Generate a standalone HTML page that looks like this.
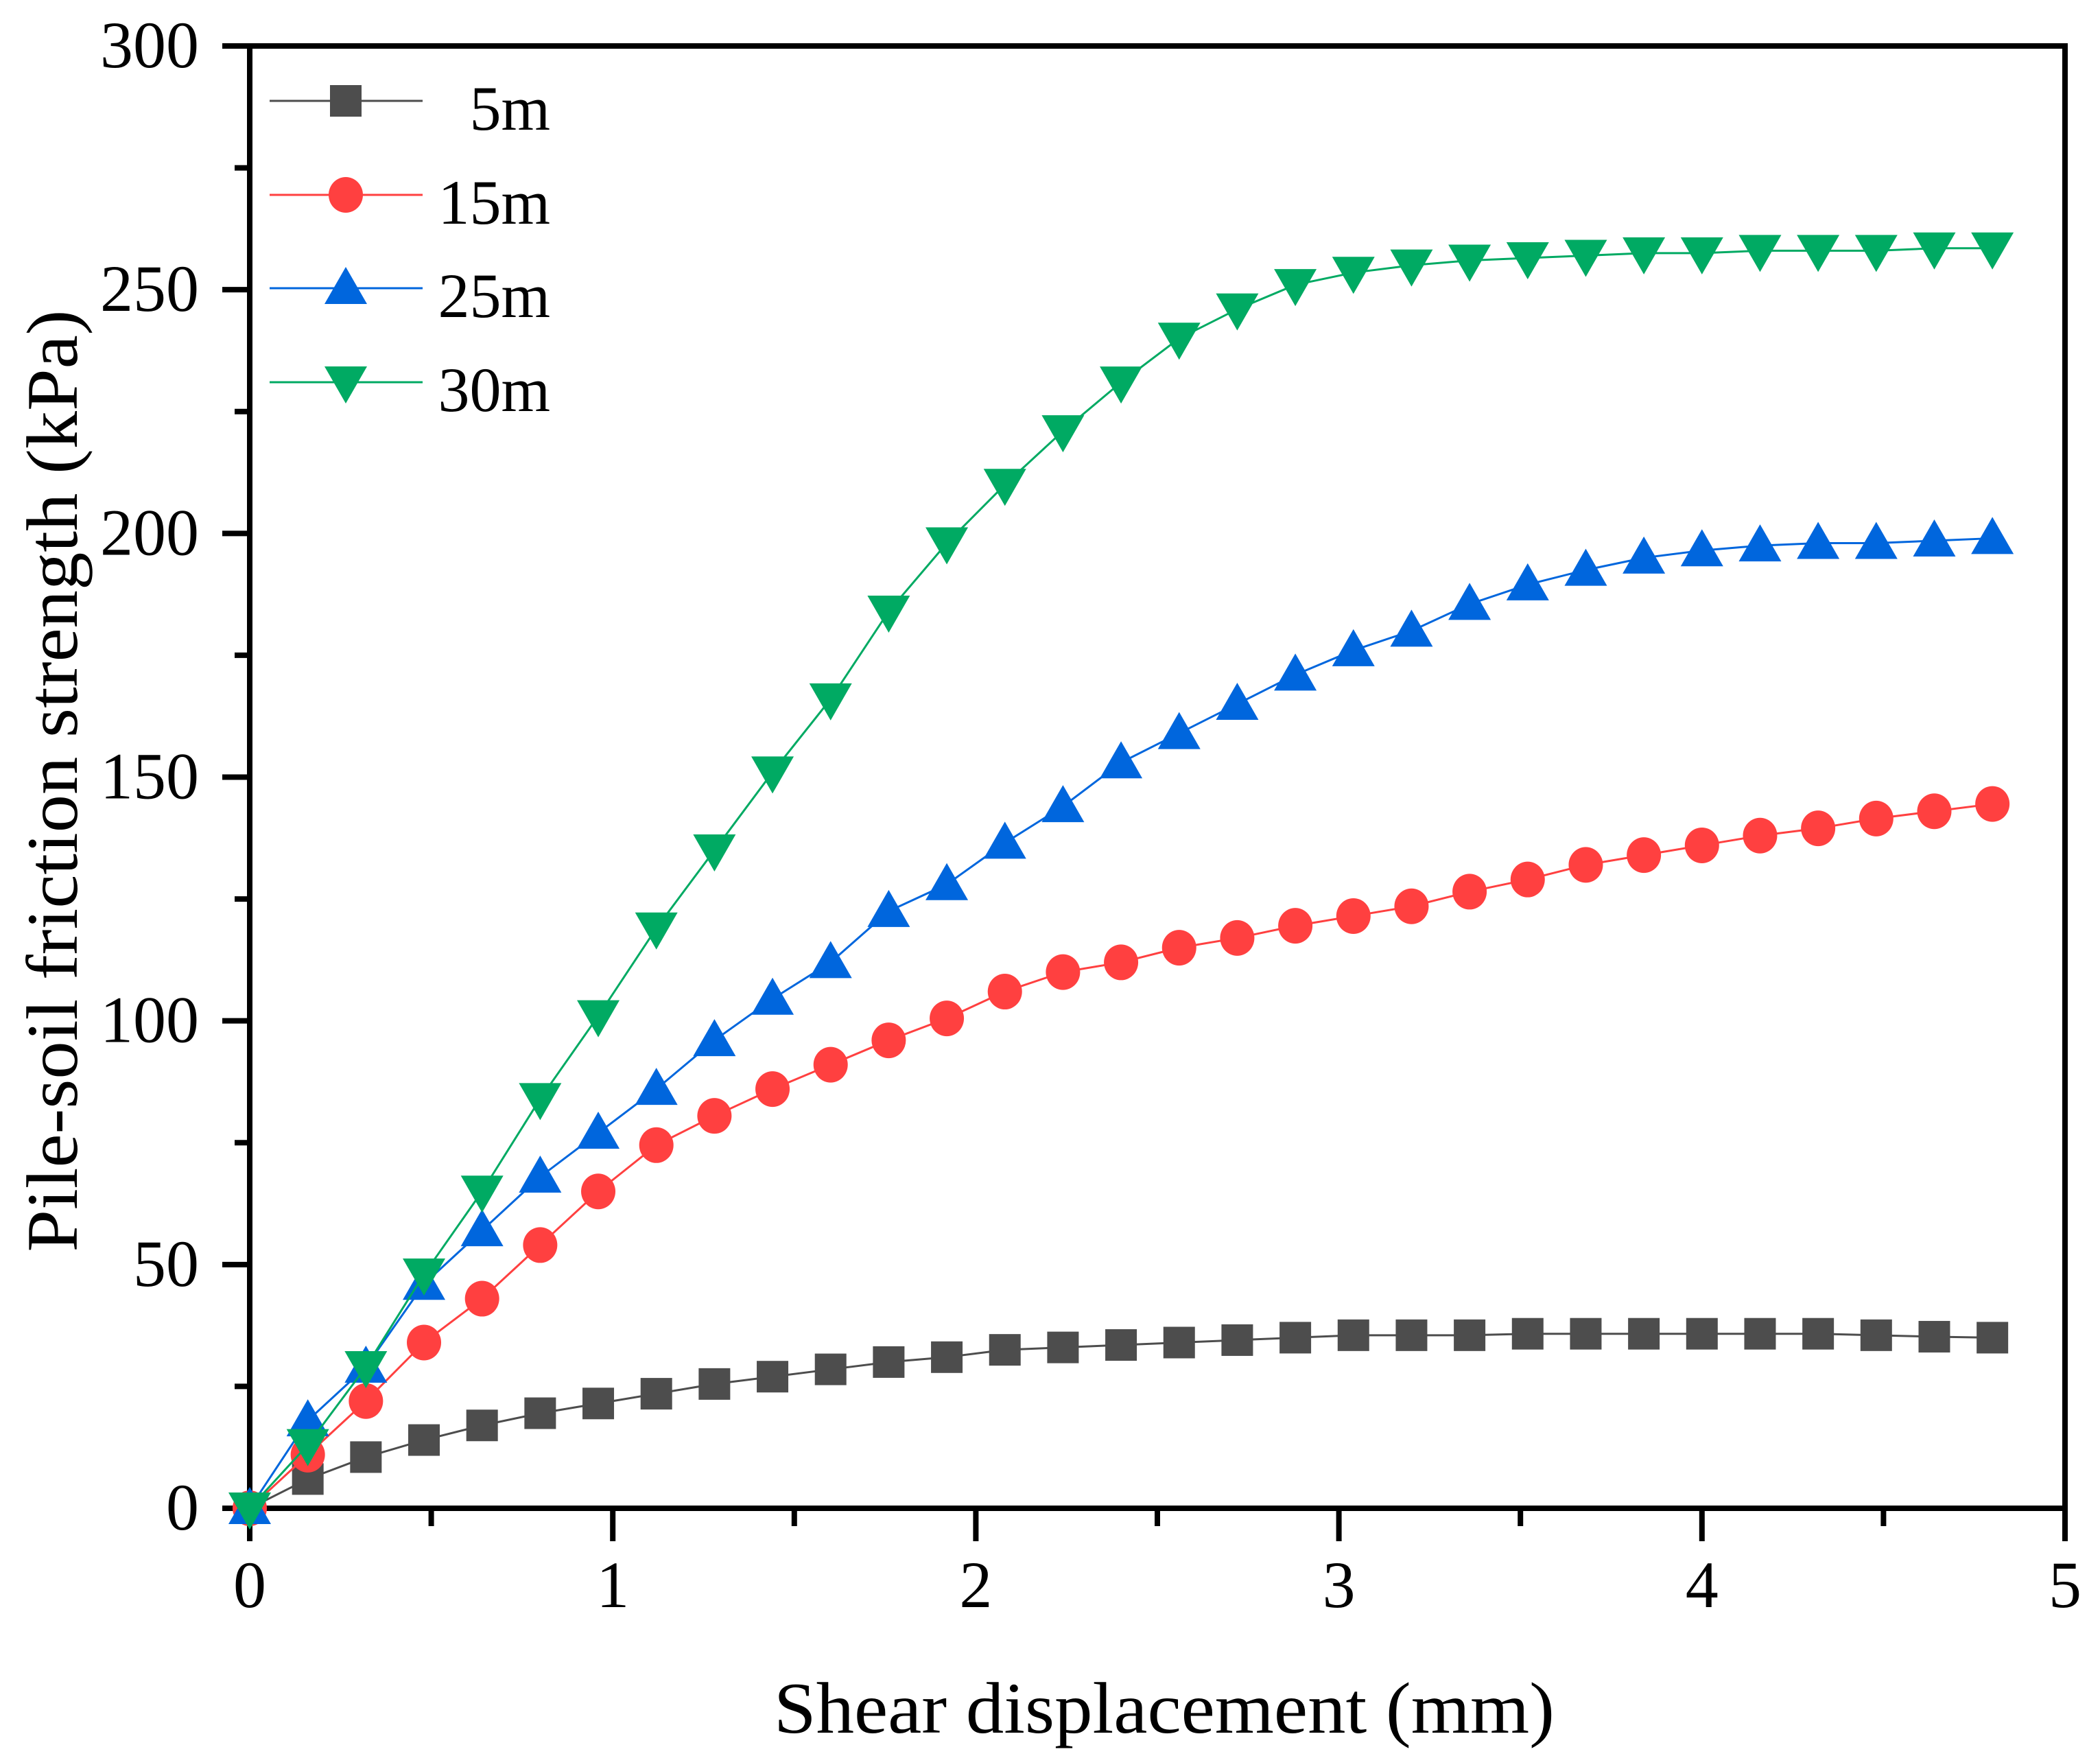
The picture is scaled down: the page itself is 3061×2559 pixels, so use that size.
<!DOCTYPE html>
<html><head><meta charset="utf-8"><style>html,body{margin:0;padding:0;background:#fff}svg{display:block}</style></head>
<body>
<svg id="chart" width="3061" height="2559" viewBox="0 0 3061 2559" xmlns="http://www.w3.org/2000/svg" font-family="'Liberation Serif', serif">
<g id="axes"></g>
<g id="series"></g>
<g id="legend"></g>
<text x="1697" y="2525" font-size="106" text-anchor="middle" textLength="1138" lengthAdjust="spacingAndGlyphs">Shear displacement (mm)</text>
<text transform="translate(112,1138) rotate(-90)" x="0" y="0" font-size="106" text-anchor="middle" textLength="1373" lengthAdjust="spacingAndGlyphs">Pile-soil friction strength (kPa)</text>
</svg>
<script>
const xStep = 0.16;
const s5m = [0,6,10.5,14,17,19.5,21.5,23.5,25.5,27,28.5,30,31,32.5,33,33.5,34,34.5,35,35.5,35.5,35.5,35.8,35.8,35.8,35.8,35.8,35.8,35.5,35.2,35];
const s15m = [0,11,22,34,43,54,65,74.5,80.5,86,91,96,100.5,106,110,112,115,117,119.5,121.5,123.5,126.5,129,132,134,136,138,139.5,141.5,143,144.5];
const s25m = [0,18,29,46,57,68,77,86,96,104.5,112,122.5,128,136.5,144,153,159,165,171,176,180,185.5,189.5,192.5,195,196.5,197.5,198,198,198.5,199];
const s30m = [0,13,29,48,65,84,101,119,135,151,166,184,198,210,221,231,240,246,251,253.5,255,256,256.5,257,257.5,257.5,258,258,258,258.5,258.5];
const xTicks = [0,1,2,3,4,5];
const yTicks = [0,50,100,150,200,250,300];
const legendLabels = ['5m','15m','25m','30m'];

const NS='http://www.w3.org/2000/svg';
const X0=364,X1=3010,Y0=2198,Y1=67;
const sx=v=>X0+(v/5)*(X1-X0);
const sy=v=>Y0-(v/300)*(Y0-Y1);
function mk(tag,attrs,parent){const e=document.createElementNS(NS,tag);for(const k in attrs)e.setAttribute(k,attrs[k]);parent.appendChild(e);return e;}
const axes=document.getElementById('axes');
let f=mk('rect',{x:X0,y:Y1,width:X1-X0,height:Y0-Y1,fill:'none',stroke:'#000','stroke-width':8},axes);


for(let v=0;v<=5.001;v+=0.5){const major=Math.abs(v-Math.round(v))<1e-6;
 let t=mk('line',{x1:sx(v),x2:sx(v),y1:Y0,y2:Y0+(major?48:26),stroke:'#000','stroke-width':8},axes);
 
 }
xTicks.forEach(v=>{let t=mk('text',{x:sx(v),y:2342,'font-size':96,'text-anchor':'middle'},axes);t.textContent=v;
 
 });
for(let v=0;v<=300;v+=25){const major=v%50===0;
 let t=mk('line',{x1:X0-(major?40:22),x2:X0,y1:sy(v),y2:sy(v),stroke:'#000','stroke-width':8},axes);
 
 }
yTicks.forEach(v=>{let t=mk('text',{x:290,y:sy(v)+31,'font-size':96,'text-anchor':'end'},axes);t.textContent=v;
 
 });

const colors=['#4d4d4d','#ff4040','#0066dd','#00aa63'];
const shapes=['square','circle','up','down'];
function marker(p,shape,cx,cy,col){
 let e;
 if(shape==='square') e=mk('rect',{x:cx-23,y:cy-23,width:46,height:46,fill:col},p);
 else if(shape==='circle') e=mk('ellipse',{cx:cx,cy:cy,rx:25,ry:26,fill:col},p);
 else if(shape==='up') e=mk('polygon',{points:`${cx},${cy-31} ${cx-31},${cy+23} ${cx+31},${cy+23}`,fill:col},p);
 else e=mk('polygon',{points:`${cx},${cy+31} ${cx-31},${cy-23} ${cx+31},${cy-23}`,fill:col},p);
 return e;
}
const seriesG=document.getElementById('series');
[s5m,s15m,s25m,s30m].forEach((arr,i)=>{
 const g=mk('g',{},seriesG);
 
 
 const pts=arr.map((v,j)=>sx(j*xStep)+','+sy(v)).join(' ');
 let l=mk('polyline',{points:pts,fill:'none',stroke:colors[i],'stroke-width':3},g);
 
 
 arr.forEach((v,j)=>{let m=marker(g,shapes[i],sx(j*xStep),sy(v),colors[i]);
  
  });
});
const lg=document.getElementById('legend');
const rowY=[147,284,420,557];
legendLabels.forEach((lab,i)=>{
 const g=mk('g',{},lg);
 
 
 mk('line',{x1:393,x2:616,y1:rowY[i],y2:rowY[i],stroke:colors[i],'stroke-width':3},g);
 marker(g,shapes[i],504,rowY[i],colors[i]);
 let t=mk('text',{x:802,y:rowY[i]+42,'font-size':92,'text-anchor':'end'},g);t.textContent=lab;
});
</script>
</body></html>
